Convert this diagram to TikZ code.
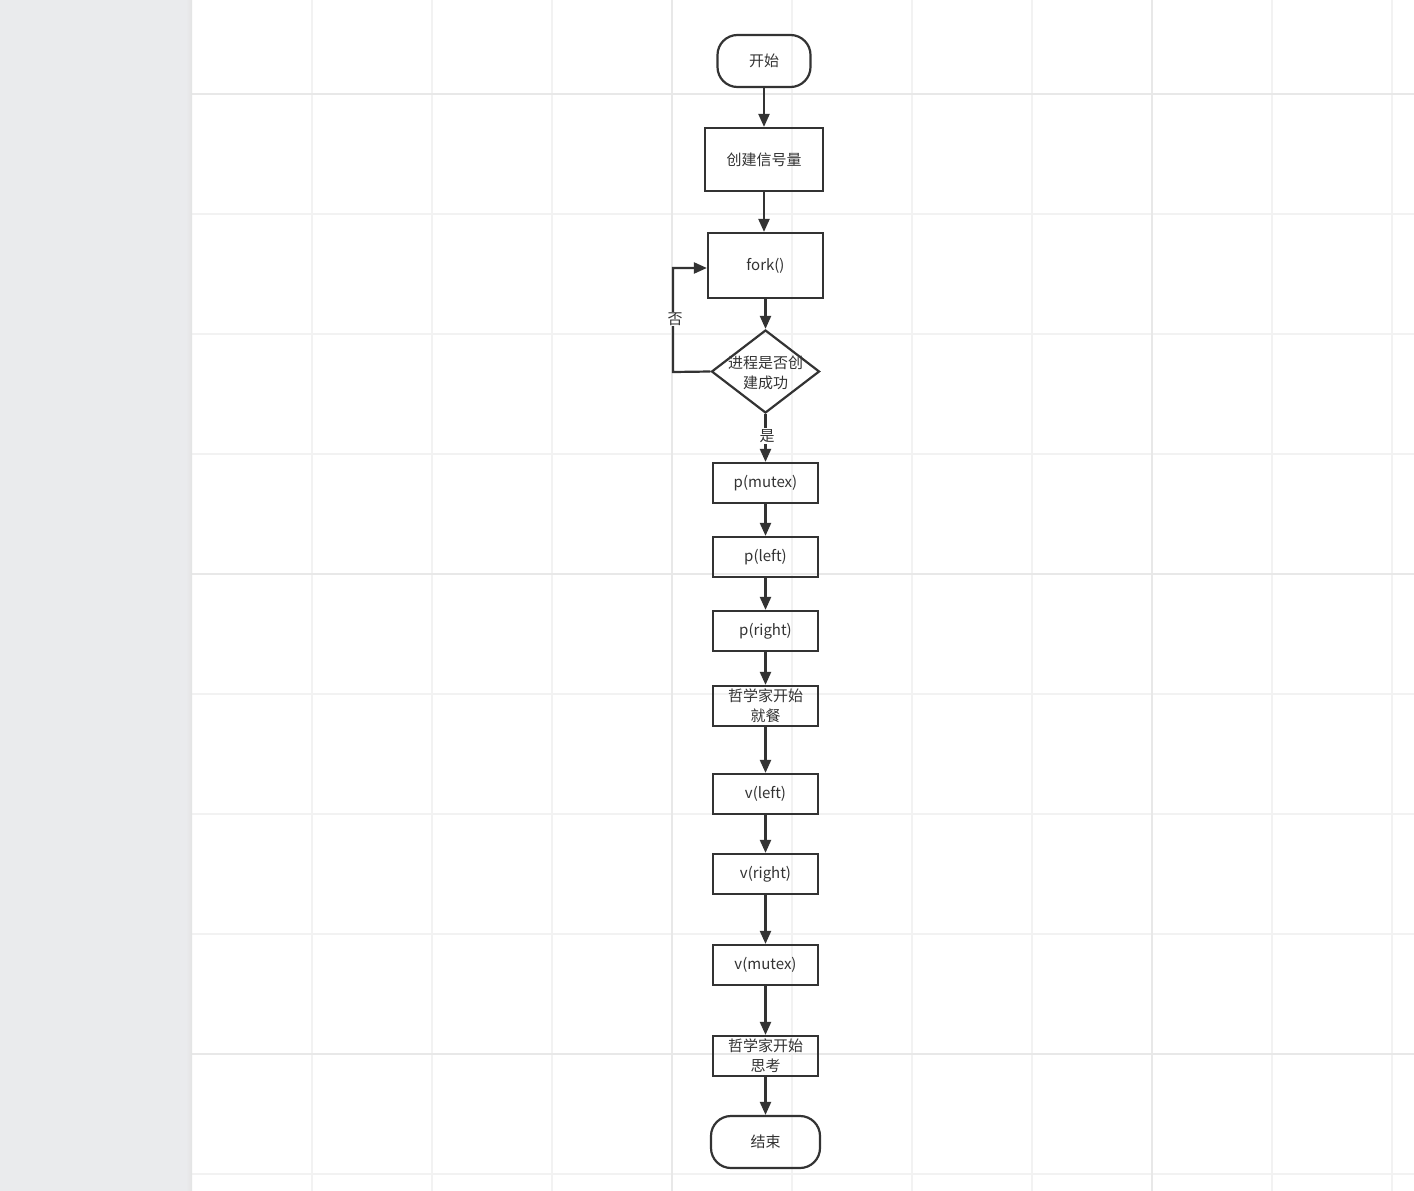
\documentclass[tikz,border=0pt]{standalone}
\usepackage{fontspec}
\setmainfont{Noto Sans CJK SC}
\usetikzlibrary{arrows.meta,shapes.geometric}
\definecolor{ink}{HTML}{333333}
\definecolor{panel}{HTML}{EAEBED}
\definecolor{gridminor}{HTML}{F2F2F2}
\definecolor{gridmajor}{HTML}{E8E8E8}
\begin{document}
\begin{tikzpicture}[x=1pt,y=-1pt,
  box/.style={draw=ink,line width=2.2pt,inner sep=0pt,text=ink,minimum width=105pt,minimum height=40pt,align=center},
  term/.style={box,rounded corners=20pt,minimum height=52pt},
  lbl/.style={fill=white,inner sep=1pt,text=ink},
  every node/.style={font=\fontsize{15}{20}\selectfont},
  >={Triangle[length=13pt,width=11pt]}]
\useasboundingbox (0,0) rectangle (1414,1191);
\fill[white] (0,0) rectangle (1414,1191);
% grid
\foreach \gx in {312,432,...,1392} \draw[gridminor,line width=2pt] (\gx,0) -- (\gx,1191);
\foreach \gy in {94,214,...,1174} \draw[gridminor,line width=2pt] (192,\gy) -- (1414,\gy);
\foreach \gx in {672,1152} \draw[gridmajor,line width=2.5pt] (\gx,0) -- (\gx,1191);
\foreach \gy in {94,574,1054} \draw[gridmajor,line width=2.5pt] (192,\gy) -- (1414,\gy);
\fill[panel] (0,0) rectangle (186,1191);
\shade[left color=panel,right color=gridmajor!90!black!60] (186,0) rectangle (192,1191);

\node (start) [term,minimum width=93pt] at (764,61) {开始};
\node (sem) [box,minimum width=118pt,minimum height=63pt] at (764,159.5) {创建信号量};
\node (fork) [box,minimum width=115pt,minimum height=65pt] at (765.5,265.5) {fork()};
\node (chk) [diamond,draw=ink,line width=2.2pt,inner sep=0pt,aspect=1.3,minimum width=108pt,minimum height=83pt] at (765.5,371.5) {};
\node (chktxt) [align=center,text=ink] at (765.5,373) {进程是否创\\建成功};
\node (pmutex) [box] at (765.5,483) {p(mutex)};
\node (pleft) [box] at (765.5,557) {p(left)};
\node (pright) [box] at (765.5,631) {p(right)};
\node (eat) [box] at (765.5,706) {哲学家开始\\就餐};
\node (vleft) [box] at (765.5,794) {v(left)};
\node (vright) [box] at (765.5,874) {v(right)};
\node (vmutex) [box] at (765.5,965) {v(mutex)};
\node (think) [box] at (765.5,1056) {哲学家开始\\思考};
\node (stop) [term,minimum width=109pt] at (765.5,1142) {结束};
\coordinate (loop) at (673,372);

\begin{scope}[draw=ink,line width=2.2pt]
\draw[->] (start) -- (sem);
\draw[->] (sem.south) -- (sem.south |- fork.north);
\draw[->] (fork) -- (chk);
\draw[->] (chk) -- (pmutex);
\draw[->] (pmutex) -- (pleft);
\draw[->] (pleft) -- (pright);
\draw[->] (pright) -- (eat);
\draw[->] (eat) -- (vleft);
\draw[->] (vleft) -- (vright);
\draw[->] (vright) -- (vmutex);
\draw[->] (vmutex) -- (think);
\draw[->] (think) -- (stop);
\draw[->] (chk.west) -- (loop) |- ([yshift=-2.5pt]fork.west);
\end{scope}

\node (no) [lbl] at (675,319) {否};
\node (yes) [lbl] at (767,436) {是};
\end{tikzpicture}
\end{document}
